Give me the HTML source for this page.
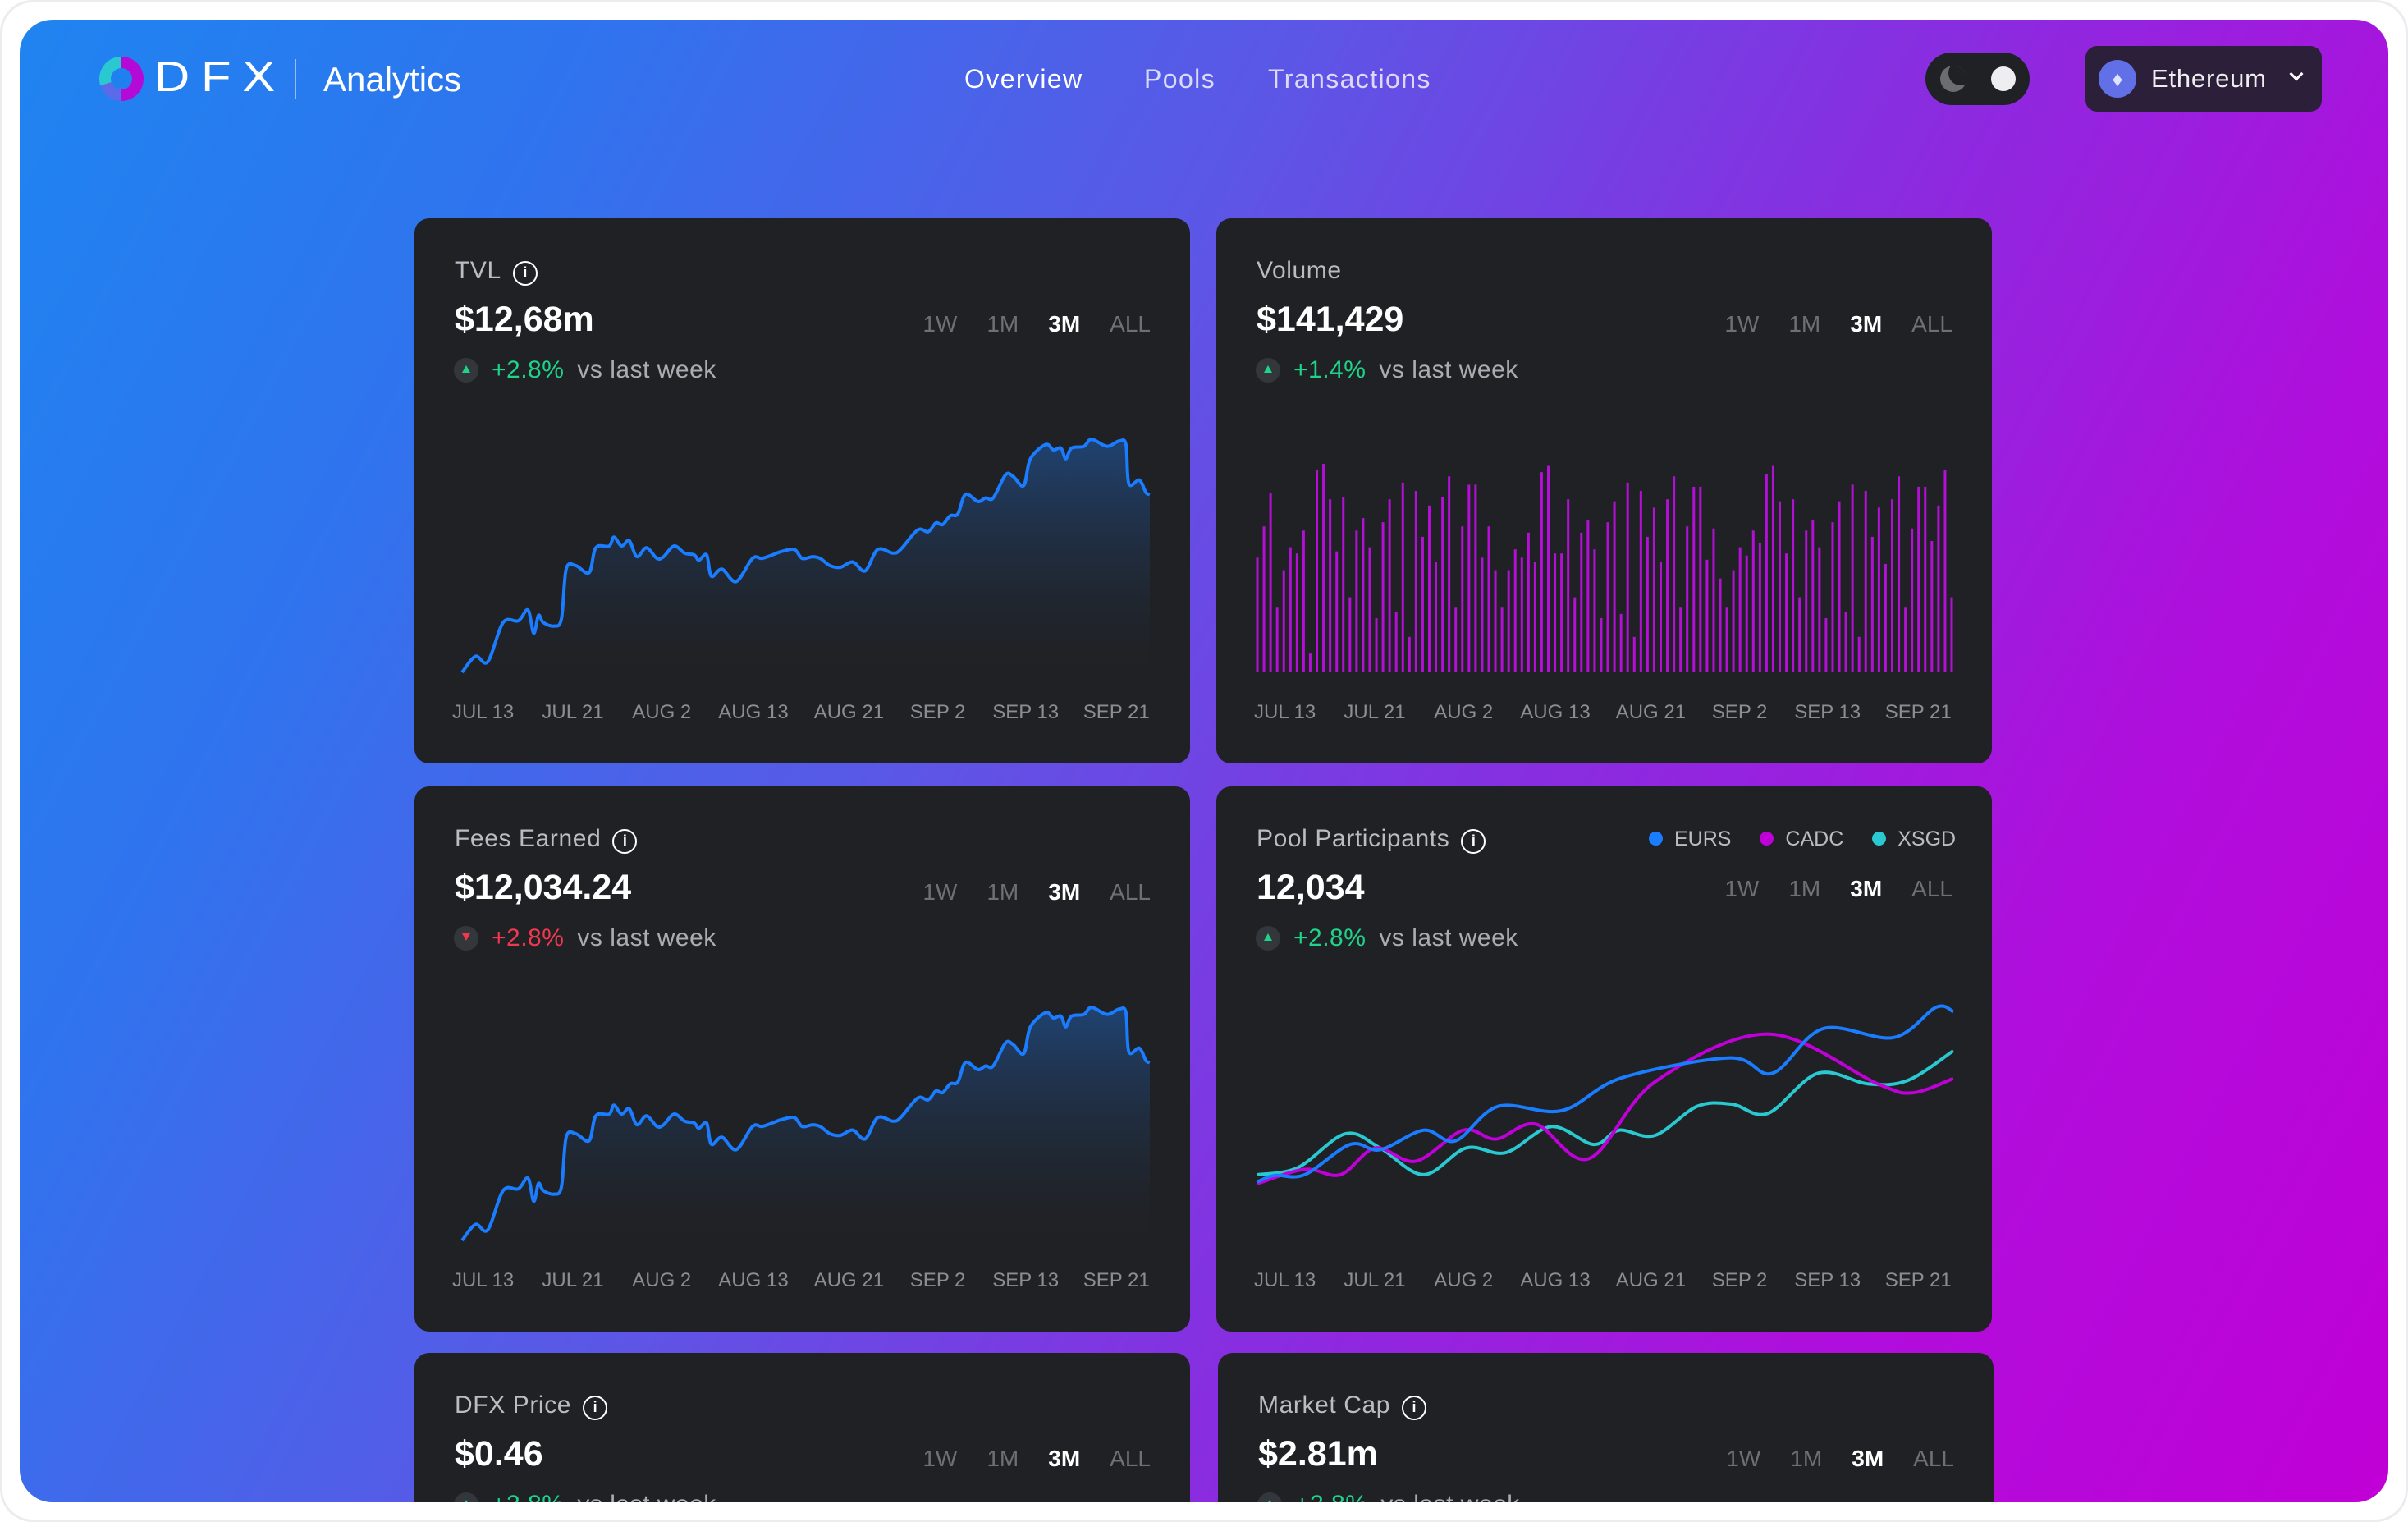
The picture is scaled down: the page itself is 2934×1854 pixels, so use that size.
<!DOCTYPE html>
<html><head><meta charset="utf-8">
<style>
*{margin:0;padding:0;box-sizing:border-box}
body{width:2934px;height:1854px;background:#fff;font-family:"Liberation Sans",sans-serif;position:relative;overflow:hidden}
#frame{position:absolute;left:0;top:0;width:2934px;height:1854px;border:3px solid #ececef;border-radius:40px;background:#fff}
#panel{position:absolute;left:24px;top:24px;width:2886px;height:1806px;border-radius:40px;overflow:hidden;
background:linear-gradient(118deg,#1f84f0 0%,#2f74ee 18%,#5a58e6 40%,#8a2ce0 62%,#b00edc 80%,#c000d6 100%)}
.abs{position:absolute}
.card{position:absolute;width:945px;height:664px;background:#202124;border-radius:18px;overflow:hidden}
.title{position:absolute;left:49px;top:46px;font-size:30px;letter-spacing:0.6px;color:#b9bcc2;line-height:36px;white-space:nowrap}
.info{display:inline-block;width:30px;height:30px;border:2.5px solid #fff;border-radius:50%;vertical-align:1px;margin-left:14px;text-align:center;font-size:18px;line-height:25px;color:#fff;font-weight:bold;letter-spacing:0}
.value{position:absolute;left:49px;top:98px;font-size:43px;font-weight:bold;color:#fff;line-height:50px}
.tabs{position:absolute;top:112px;right:48px;font-size:28px;color:#6d7076;line-height:34px;white-space:nowrap}
.tabs span{margin-left:36px}
.tabs span.on{color:#fff;font-weight:bold}
.change{position:absolute;left:48px;top:168px;font-size:30px;letter-spacing:0.5px;line-height:34px;color:#a9acb2;white-space:nowrap}
.change .dot{display:inline-block;width:30px;height:30px;border-radius:50%;background:#33363b;vertical-align:-6px;margin-right:16px;position:relative}
.change .dot:after{content:"";position:absolute;left:10px;top:9px;border-left:5px solid transparent;border-right:5px solid transparent;border-bottom:9px solid #1ed48a}
.change .dot.down:after{border-bottom:none;border-top:9px solid #f0384e}
.up{color:#1ed48a;margin-right:16px}
.dn{color:#f0384e;margin-right:16px}
svg{position:absolute;left:0;top:0}
.nav{position:absolute;top:76px;font-size:32px;letter-spacing:1.4px;line-height:40px;color:rgba(255,255,255,0.78)}
</style></head><body>
<div id="frame"></div>
<div id="panel">
</div>
<div class="abs" style="left:0;top:0;width:2934px;height:1854px" id="ui">
  <div class="abs" style="left:121px;top:69px;width:54px;height:54px;border-radius:50%;background:conic-gradient(#b40ad8 0 50%,#5a6ae8 50% 70%,#2ac8d0 70% 100%)">
    <div class="abs" style="left:14px;top:14px;width:26px;height:26px;border-radius:50%;background:#2080f0"></div>
  </div>
  <div class="abs" style="left:188px;top:66px;font-size:52px;color:#fff;letter-spacing:12px;line-height:56px;font-weight:300;transform:scaleX(1.15);transform-origin:left">DFX</div>
  <div class="abs" style="left:359px;top:72px;width:2px;height:48px;background:rgba(255,255,255,0.5)"></div>
  <div class="abs" style="left:394px;top:72px;font-size:42px;color:#fff;line-height:50px">Analytics</div>
  <div class="nav" style="left:1175px;color:#fff">Overview</div>
  <div class="nav" style="left:1394px">Pools</div>
  <div class="nav" style="left:1545px">Transactions</div>
  <div class="abs" style="left:2346px;top:64px;width:127px;height:64px;border-radius:32px;background:#202124">
    <div class="abs" style="left:18px;top:16px;width:32px;height:32px;border-radius:50%;background:#6a6d72;overflow:hidden"><div class="abs" style="left:10px;top:-6px;width:30px;height:30px;border-radius:50%;background:#202124"></div></div>
    <div class="abs" style="left:80px;top:17px;width:30px;height:30px;border-radius:50%;background:#eeeef0"></div>
  </div>
  <div class="abs" style="left:2541px;top:56px;width:288px;height:80px;border-radius:14px;background:#2c1f3a">
    <div class="abs" style="left:16px;top:17px;width:46px;height:46px;border-radius:50%;background:#6270e8;color:#dfe3ff;font-size:26px;text-align:center;line-height:46px">♦</div>
    <div class="abs" style="left:80px;top:20px;font-size:31px;letter-spacing:0.8px;color:#eee;line-height:40px">Ethereum</div>
    <div class="abs" style="left:251px;top:28px;width:12px;height:12px;border-right:3px solid #fff;border-bottom:3px solid #fff;transform:rotate(45deg)"></div>
  </div>
</div>

<div class="card" style="left:505px;top:266px">
  <svg id="tvl" width="945" height="664"></svg>
  <div class="title">TVL<span class="info">i</span></div>
  <div class="value">$12,68m</div>
  <div class="tabs"><span>1W</span><span>1M</span><span class="on">3M</span><span>ALL</span></div>
  <div class="change"><span class="dot"></span><span class="up">+2.8%</span>vs last week</div>
</div>
<div class="card" style="left:1482px;top:266px">
  <svg id="vol" width="945" height="664"></svg>
  <div class="title">Volume</div>
  <div class="value">$141,429</div>
  <div class="tabs"><span>1W</span><span>1M</span><span class="on">3M</span><span>ALL</span></div>
  <div class="change"><span class="dot"></span><span class="up">+1.4%</span>vs last week</div>
</div>
<div class="card" style="left:505px;top:958px">
  <svg id="fees" width="945" height="664"></svg>
  <div class="title">Fees Earned<span class="info">i</span></div>
  <div class="value">$12,034.24</div>
  <div class="tabs"><span>1W</span><span>1M</span><span class="on">3M</span><span>ALL</span></div>
  <div class="change"><span class="dot down"></span><span class="dn">+2.8%</span>vs last week</div>
</div>
<div class="card" style="left:1482px;top:958px">
  <svg id="pool" width="945" height="664"></svg>
  <div class="title">Pool Participants<span class="info">i</span></div>
  <div class="abs" style="left:527px;top:46px;font-size:25px;line-height:36px;color:#b9bcc2;white-space:nowrap">
    <span><span style="display:inline-block;width:17px;height:17px;border-radius:50%;background:#1a7cff;margin-right:14px"></span>EURS</span>
    <span style="margin-left:28px"><span style="display:inline-block;width:17px;height:17px;border-radius:50%;background:#c000d8;margin-right:14px"></span>CADC</span>
    <span style="margin-left:28px"><span style="display:inline-block;width:17px;height:17px;border-radius:50%;background:#2ac8d0;margin-right:14px"></span>XSGD</span>
  </div>
  <div class="value">12,034</div>
  <div class="tabs" style="top:108px"><span>1W</span><span>1M</span><span class="on">3M</span><span>ALL</span></div>
  <div class="change"><span class="dot"></span><span class="up">+2.8%</span>vs last week</div>
</div>
<div class="card" style="left:505px;top:1648px;height:182px;border-radius:18px 18px 0 0">
  <div class="title" style="top:46px">DFX Price<span class="info">i</span></div>
  <div class="value">$0.46</div>
  <div class="tabs"><span>1W</span><span>1M</span><span class="on">3M</span><span>ALL</span></div>
  <div class="change"><span class="dot"></span><span class="up">+2.8%</span>vs last week</div>
</div>
<div class="card" style="left:1484px;top:1648px;height:182px;border-radius:18px 18px 0 0">
  <div class="title">Market Cap<span class="info">i</span></div>
  <div class="value">$2.81m</div>
  <div class="tabs"><span>1W</span><span>1M</span><span class="on">3M</span><span>ALL</span></div>
  <div class="change"><span class="dot"></span><span class="up">+2.8%</span>vs last week</div>
</div>

<script>
const xTickLabels=["JUL 13","JUL 21","AUG 2","AUG 13","AUG 21","SEP 2","SEP 13","SEP 21"];
const xTickDays=[2.2,11.6,20.9,30.5,40.5,49.8,59.0,68.5];
const tvlDays=[0,1.4,2.7,4.3,5.9,6.9,7.5,8.0,8.5,9.6,10.4,10.9,11.9,13.3,14.0,15.4,15.9,16.7,17.5,18.3,19.3,20.4,21.1,22.2,23.3,24.3,24.8,25.6,26.1,27.2,28.7,30.4,31.4,32.5,33.5,34.8,35.6,36.7,37.5,38.5,39.6,40.9,42.2,43.5,45.1,45.9,47.7,48.8,49.6,50.3,51.1,51.9,52.7,54.0,54.8,55.6,56.9,57.7,58.8,59.5,61.1,61.9,62.7,63.2,63.8,65.1,65.9,67.5,68.8,69.5,69.8,70.9,71.6,72];
const tvlValues=[0,0.9,0.6,2.8,2.9,3.5,2.2,3.2,2.8,2.6,3.0,5.8,6.0,5.6,7.0,7.1,7.6,7.1,7.4,6.5,7.0,6.4,6.5,7.1,6.7,6.6,6.3,6.6,5.4,5.8,5.1,6.4,6.4,6.6,6.8,6.9,6.4,6.5,6.4,6.0,5.9,6.2,5.7,6.9,6.7,6.9,8.0,7.9,8.4,8.3,8.8,8.9,10.0,9.6,9.8,9.8,11.1,11.0,10.5,12.0,12.8,12.5,12.6,12.0,12.6,12.7,13.1,12.7,13.0,12.8,10.6,10.8,10.1,10.0];
const feesDays=tvlDays.slice();
const feesValues=[0,0.9,0.6,2.8,2.9,3.5,2.2,3.2,2.8,2.6,3.0,5.8,6.0,5.6,7.0,7.1,7.6,7.1,7.4,6.5,7.0,6.4,6.5,7.1,6.7,6.6,6.3,6.6,5.4,5.8,5.1,6.4,6.4,6.6,6.8,6.9,6.4,6.5,6.4,6.0,5.9,6.2,5.7,6.9,6.7,6.9,8.0,7.9,8.4,8.3,8.8,8.9,10.0,9.6,9.8,9.8,11.1,11.0,10.5,12.0,12.8,12.5,12.6,12.0,12.6,12.7,13.1,12.7,13.0,12.8,10.6,10.8,10.1,10.0];
const volumeValues=[55,70,86,31,49,60,57,68,9,97,100,83,58,84,36,68,74,60,26,72,83,29,91,17,87,65,80,53,84,94,31,70,90,90,55,70,49,31,49,59,55,67,53,96,99,57,57,83,36,67,73,59,26,72,82,28,91,17,87,65,79,53,83,94,31,70,89,89,54,69,45,31,49,60,56,68,62,95,99,82,57,83,36,68,73,60,26,72,82,29,90,17,87,65,79,52,83,94,31,69,89,89,63,80,97,36];
const eursDays=[0,1.8,4.9,9.6,12.7,17.2,20.5,24.9,31.5,37.7,48.9,53.3,58.5,65.8,70.2,72];
const eursValues=[16,17.8,18,26.5,25,30.5,27.5,37.2,36,45.2,50.8,46.5,59,56.5,65,63.8];
const cadcDays=[0,4.9,8.6,12.2,16.4,21.3,24.7,28.8,34.3,41.1,52.8,64.2,67.8,72];
const cadcValues=[15.5,19.5,18,25.5,21.8,30.5,28,32.2,22.5,44,57.5,43.5,41,45];
const xsgdDays=[0,4.2,9.1,12.7,17.2,21.6,25.7,30.4,34.8,37.4,41.1,45.5,49.1,52.8,58.0,63.2,67.3,72];
const xsgdValues=[18,20,29.5,25.5,18,25.5,24.2,31.5,26.5,30.5,29,37.2,37.8,35.2,46.5,43.5,44.5,52.8];

const NS="http://www.w3.org/2000/svg";
function mk(tag,attrs,parent){const e=document.createElementNS(NS,tag);for(const k in attrs)e.setAttribute(k,attrs[k]);parent.appendChild(e);return e;}
function smooth(pts){let d="M"+pts[0][0]+","+pts[0][1];for(let i=0;i<pts.length-1;i++){const p0=pts[i-1]||pts[i],p1=pts[i],p2=pts[i+1],p3=pts[i+2]||p2;const t=6;d+=" C"+(p1[0]+(p2[0]-p0[0])/t)+","+(p1[1]+(p2[1]-p0[1])/t)+" "+(p2[0]-(p3[0]-p1[0])/t)+","+(p2[1]-(p3[1]-p1[1])/t)+" "+p2[0]+","+p2[1];}return d;}
function axisLabels(svg,xs){
  xTickLabels.forEach((l,i)=>{const t=mk("text",{x:xs(xTickDays[i]),y:609,"text-anchor":"middle","font-size":24,fill:"#8a8d93","font-family":"Liberation Sans, sans-serif"},svg);t.textContent=l;
  
  });
}
function areaChart(id,days,vals){
  const svg=document.getElementById(id);
  const x0=58,x1=896,bottom=553,pxPer=21.68;
  const xs=d=>x0+(x1-x0)*d/72, ys=v=>bottom-v*pxPer;
  const defs=mk("defs",{},svg);const g=mk("linearGradient",{id:id+"g",x1:0,y1:0,x2:0,y2:1},defs);
  mk("stop",{offset:"0","stop-color":"#1f4e8c","stop-opacity":"0.75"},g);mk("stop",{offset:"1","stop-color":"#202124","stop-opacity":"0.2"},g);
  const pts=days.map((d,i)=>[xs(d),ys(vals[i])]);const line=smooth(pts);
  const a=mk("path",{d:line+" L"+x1+","+bottom+" L"+x0+","+bottom+" Z",fill:"url(#"+id+"g)"},svg);
  
  
  const l=mk("path",{d:line,fill:"none",stroke:"#1a7cff","stroke-width":4,"stroke-linejoin":"round"},svg);
  
  
  axisLabels(svg,xs);
}
areaChart("tvl",tvlDays,tvlValues);
areaChart("fees",feesDays,feesValues);
(function(){
  const svg=document.getElementById("vol");
  const x0=50,x1=896,bottom=553,h=254;const n=volumeValues.length;
  const xb=i=>x0+(x1-x0)*i/(n-1);
  volumeValues.forEach((v,i)=>{const r=mk("rect",{x:xb(i)-1.5,y:bottom-v/100*h,width:3,height:v/100*h,fill:"#b40fd6"},svg);
    
    });
  axisLabels(svg,d=>58+(896-58)*d/72);
})();
(function(){
  const svg=document.getElementById("pool");
  const x0=50,x1=898,bottom=551,pxPer=4.337;
  const xs=d=>x0+(x1-x0)*d/72, ys=v=>bottom-v*pxPer;
  [[xsgdDays,xsgdValues,"#2ac8d0","xsgd-line"],[cadcDays,cadcValues,"#c000d8","cadc-line"],[eursDays,eursValues,"#1a7cff","eurs-line"]].forEach(s=>{
    const p=mk("path",{d:smooth(s[0].map((d,i)=>[xs(d),ys(s[1][i])])),fill:"none",stroke:s[2],"stroke-width":4},svg);
    
    
  });
  axisLabels(svg,d=>58+(896-58)*d/72);
})();
</script>
</body></html>
